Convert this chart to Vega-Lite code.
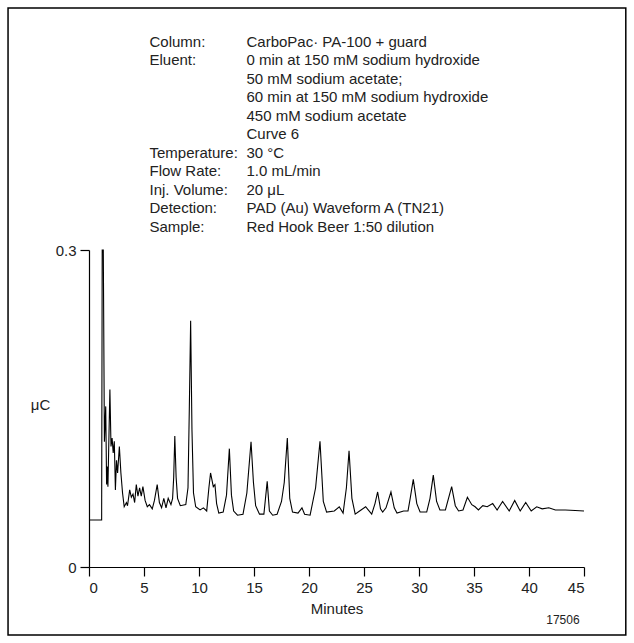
{
  "$schema": "https://vega.github.io/schema/vega-lite/v6.json",
  "width": 495,
  "height": 317,
  "autosize": "none",
  "padding": {"left": 89, "top": 250, "right": 50, "bottom": 76},
  "background": "white",
  "config": {
    "view": {"stroke": null},
    "font": "Liberation Sans",
    "axis": {"domainColor": "black", "tickColor": "black", "labelColor": "#222", "labelFontSize": 15, "titleFontSize": 15, "titleFontWeight": "normal", "titleColor": "#222", "grid": false, "tickSize": 9, "domainWidth": 1.2, "tickWidth": 1.2, "labelFont": "Liberation Sans", "titleFont": "Liberation Sans"}
  },
  "datasets": {
    "trace": [
      {"t": 0, "v": 0.0445}, {"t": 1.15, "v": 0.0445}, {"t": 1.2, "v": 0.3}, {"t": 1.3, "v": 0.3}, {"t": 1.4, "v": 0.1185},
      {"t": 1.52, "v": 0.152}, {"t": 1.6, "v": 0.078}, {"t": 1.65, "v": 0.095}, {"t": 1.72, "v": 0.076}, {"t": 1.9, "v": 0.168},
      {"t": 2.0, "v": 0.114}, {"t": 2.1, "v": 0.122}, {"t": 2.2, "v": 0.108}, {"t": 2.3, "v": 0.119}, {"t": 2.4, "v": 0.073},
      {"t": 2.5, "v": 0.101}, {"t": 2.6, "v": 0.089}, {"t": 2.76, "v": 0.114}, {"t": 2.9, "v": 0.089}, {"t": 3.05, "v": 0.07},
      {"t": 3.2, "v": 0.057}, {"t": 3.4, "v": 0.061}, {"t": 3.5, "v": 0.058}, {"t": 3.7, "v": 0.073}, {"t": 3.85, "v": 0.066},
      {"t": 4.0, "v": 0.069}, {"t": 4.15, "v": 0.061}, {"t": 4.3, "v": 0.078}, {"t": 4.45, "v": 0.067}, {"t": 4.6, "v": 0.075},
      {"t": 4.75, "v": 0.067}, {"t": 4.9, "v": 0.076}, {"t": 5.1, "v": 0.063}, {"t": 5.3, "v": 0.057}, {"t": 5.5, "v": 0.059},
      {"t": 5.75, "v": 0.055}, {"t": 5.95, "v": 0.063}, {"t": 6.2, "v": 0.078}, {"t": 6.4, "v": 0.061}, {"t": 6.6, "v": 0.056},
      {"t": 6.8, "v": 0.065}, {"t": 7.0, "v": 0.056}, {"t": 7.2, "v": 0.065}, {"t": 7.45, "v": 0.059}, {"t": 7.6, "v": 0.065},
      {"t": 7.7, "v": 0.085}, {"t": 7.8, "v": 0.124}, {"t": 7.92, "v": 0.085}, {"t": 8.05, "v": 0.065}, {"t": 8.3, "v": 0.058},
      {"t": 8.8, "v": 0.059}, {"t": 9.0, "v": 0.075}, {"t": 9.12, "v": 0.15}, {"t": 9.24, "v": 0.233}, {"t": 9.36, "v": 0.13},
      {"t": 9.5, "v": 0.07}, {"t": 9.7, "v": 0.057}, {"t": 10.1, "v": 0.054}, {"t": 10.4, "v": 0.056}, {"t": 10.7, "v": 0.053}, {"t": 10.9, "v": 0.075},
      {"t": 11.05, "v": 0.089}, {"t": 11.3, "v": 0.076}, {"t": 11.45, "v": 0.078}, {"t": 11.6, "v": 0.06}, {"t": 11.8, "v": 0.051}, {"t": 12.2, "v": 0.052},
      {"t": 12.5, "v": 0.068}, {"t": 12.76, "v": 0.112}, {"t": 12.95, "v": 0.068}, {"t": 13.15, "v": 0.053}, {"t": 13.5, "v": 0.049}, {"t": 14.0, "v": 0.05},
      {"t": 14.35, "v": 0.07}, {"t": 14.73, "v": 0.1185}, {"t": 14.95, "v": 0.08}, {"t": 15.15, "v": 0.058}, {"t": 15.5, "v": 0.05}, {"t": 15.9, "v": 0.05},
      {"t": 16.2, "v": 0.081}, {"t": 16.4, "v": 0.053}, {"t": 16.7, "v": 0.049}, {"t": 17.1, "v": 0.05}, {"t": 17.5, "v": 0.062}, {"t": 17.75, "v": 0.08},
      {"t": 18.03, "v": 0.122}, {"t": 18.25, "v": 0.065}, {"t": 18.5, "v": 0.052}, {"t": 19.0, "v": 0.051}, {"t": 19.36, "v": 0.056},
      {"t": 19.6, "v": 0.05}, {"t": 20.1, "v": 0.049}, {"t": 20.6, "v": 0.075}, {"t": 21.0, "v": 0.119}, {"t": 21.3, "v": 0.062},
      {"t": 21.6, "v": 0.052}, {"t": 22.3, "v": 0.053}, {"t": 22.75, "v": 0.057}, {"t": 23.1, "v": 0.051}, {"t": 23.4, "v": 0.075},
      {"t": 23.64, "v": 0.11}, {"t": 23.9, "v": 0.065}, {"t": 24.2, "v": 0.05}, {"t": 24.6, "v": 0.053}, {"t": 25.15, "v": 0.057},
      {"t": 25.7, "v": 0.05}, {"t": 26.0, "v": 0.06}, {"t": 26.24, "v": 0.071}, {"t": 26.5, "v": 0.055}, {"t": 26.7, "v": 0.052}, {"t": 27.0, "v": 0.056}, {"t": 27.45, "v": 0.071},
      {"t": 27.75, "v": 0.056}, {"t": 28.0, "v": 0.051}, {"t": 28.6, "v": 0.053}, {"t": 29.0, "v": 0.053}, {"t": 29.2, "v": 0.065}, {"t": 29.48, "v": 0.083}, {"t": 29.8, "v": 0.06}, {"t": 30.1, "v": 0.052},
      {"t": 30.7, "v": 0.052}, {"t": 31.0, "v": 0.065}, {"t": 31.3, "v": 0.087}, {"t": 31.6, "v": 0.062}, {"t": 31.9, "v": 0.054}, {"t": 32.4, "v": 0.054}, {"t": 32.97, "v": 0.076},
      {"t": 33.3, "v": 0.058}, {"t": 33.6, "v": 0.053}, {"t": 34.0, "v": 0.054}, {"t": 34.4, "v": 0.066}, {"t": 34.8, "v": 0.059}, {"t": 35.1, "v": 0.057},
      {"t": 35.4, "v": 0.054}, {"t": 35.8, "v": 0.058}, {"t": 36.2, "v": 0.057}, {"t": 36.7, "v": 0.06}, {"t": 37.1, "v": 0.054},
      {"t": 37.6, "v": 0.062}, {"t": 38.2, "v": 0.053}, {"t": 38.7, "v": 0.063}, {"t": 39.2, "v": 0.053}, {"t": 39.7, "v": 0.061},
      {"t": 40.2, "v": 0.053}, {"t": 40.7, "v": 0.057}, {"t": 41.2, "v": 0.055}, {"t": 41.8, "v": 0.056}, {"t": 42.4, "v": 0.054},
      {"t": 43.3, "v": 0.054}, {"t": 44.2, "v": 0.0535}, {"t": 45, "v": 0.053}
    ],
    "notes": [
      {"t": 5.5, "y": 0.497, "label": "Column:", "value": "CarboPac\u00b7 PA-100 + guard"},
      {"t": 5.5, "y": 0.4795, "label": "Eluent:", "value": "0 min at 150 mM sodium hydroxide"},
      {"t": 5.5, "y": 0.462, "label": "", "value": "50 mM sodium acetate;"},
      {"t": 5.5, "y": 0.4445, "label": "", "value": "60 min at 150 mM sodium hydroxide"},
      {"t": 5.5, "y": 0.427, "label": "", "value": "450 mM sodium acetate"},
      {"t": 5.5, "y": 0.4095, "label": "", "value": "Curve 6"},
      {"t": 5.5, "y": 0.392, "label": "Temperature:", "value": "30 \u00b0C"},
      {"t": 5.5, "y": 0.3745, "label": "Flow Rate:", "value": "1.0 mL/min"},
      {"t": 5.5, "y": 0.357, "label": "Inj. Volume:", "value": "20 \u03bcL"},
      {"t": 5.5, "y": 0.3395, "label": "Detection:", "value": "PAD (Au) Waveform A (TN21)"},
      {"t": 5.5, "y": 0.322, "label": "Sample:", "value": "Red Hook Beer 1:50 dilution"}
    ]
  },
  "layer": [
    {
      "data": {"values": [{"x1": -7.36, "x2": 48.8, "y1": -0.0643, "y2": 0.529}]},
      "mark": {"type": "rect", "fill": null, "stroke": "black", "strokeWidth": 1.5, "clip": false},
      "encoding": {
        "x": {"field": "x1", "type": "quantitative"},
        "x2": {"field": "x2"},
        "y": {"field": "y1", "type": "quantitative"},
        "y2": {"field": "y2"}
      }
    },
    {
      "data": {"name": "trace"},
      "mark": {"type": "line", "color": "black", "strokeWidth": 1.1, "clip": false},
      "encoding": {
        "x": {"field": "t", "type": "quantitative", "scale": {"domain": [0, 45], "nice": false, "zero": false}, "axis": {"values": [0, 5, 10, 15, 20, 25, 30, 35, 40, 45], "title": "Minutes", "titlePadding": 6, "labelPadding": 4}},
        "y": {"field": "v", "type": "quantitative", "scale": {"domain": [0, 0.3], "nice": false}, "axis": {"values": [0, 0.3], "format": ".1~f", "title": "\u03bcC", "titleAngle": 0, "titleX": -49, "titleY": 162, "labelPadding": 4}}
      }
    },
    {
      "data": {"name": "notes"},
      "mark": {"type": "text", "align": "left", "baseline": "middle", "fontSize": 15, "color": "#222", "clip": false},
      "encoding": {
        "x": {"field": "t", "type": "quantitative"},
        "y": {"field": "y", "type": "quantitative"},
        "text": {"field": "label"}
      }
    },
    {
      "data": {"name": "notes"},
      "mark": {"type": "text", "align": "left", "baseline": "middle", "fontSize": 15, "color": "#222", "clip": false, "dx": 97},
      "encoding": {
        "x": {"field": "t", "type": "quantitative"},
        "y": {"field": "y", "type": "quantitative"},
        "text": {"field": "value"}
      }
    },
    {
      "data": {"values": [{"t": 44.6, "y": -0.05, "label": "17506"}]},
      "mark": {"type": "text", "align": "right", "baseline": "middle", "fontSize": 12, "color": "#222", "clip": false},
      "encoding": {
        "x": {"field": "t", "type": "quantitative"},
        "y": {"field": "y", "type": "quantitative"},
        "text": {"field": "label"}
      }
    }
  ]
}
